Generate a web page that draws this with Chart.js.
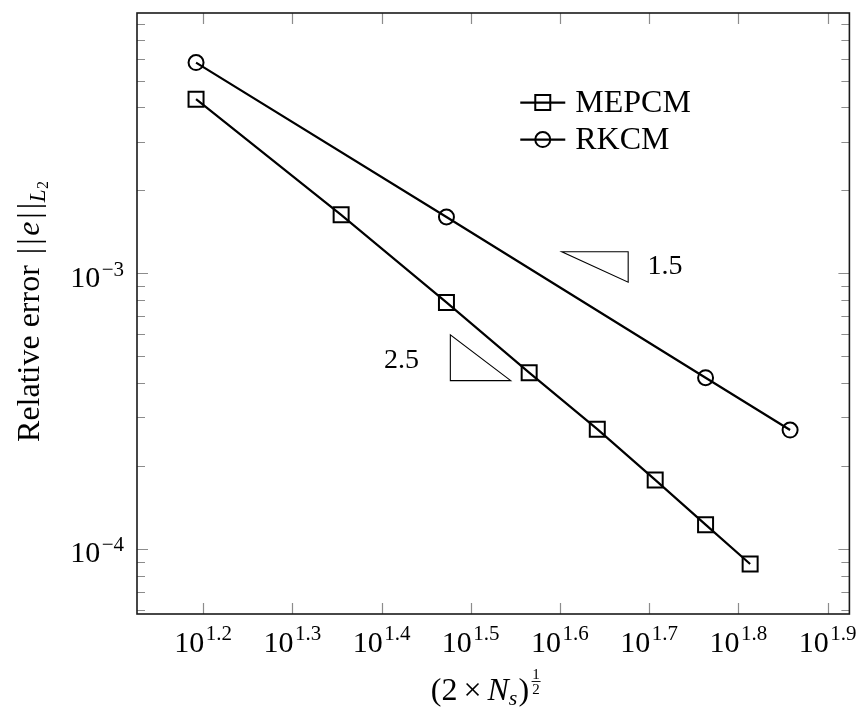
<!DOCTYPE html>
<html>
<head>
<meta charset="utf-8">
<script src="https://cdn.jsdelivr.net/npm/chart.js@4.4.0/dist/chart.umd.min.js"></script>
<style>
  html, body { margin: 0; padding: 0; background: #fff; }
  #wrap { width: 862px; height: 708px; }
</style>
</head>
<body>
<div id="wrap"><canvas id="myChart" width="862" height="708"></canvas></div>
<script>
// values
const mepcmX = [15.56, 22.63, 29.70, 36.77, 43.84, 50.91, 57.98, 65.05];
const mepcmErr = [4.28e-3, 1.63e-3, 7.84e-4, 4.36e-4, 2.72e-4, 1.78e-4, 1.225e-4, 8.82e-5];
const rkcmX = [15.56, 29.70, 57.98, 72.12];
const rkcmErr = [5.81e-3, 1.60e-3, 4.18e-4, 2.70e-4];

// tick labels (powers of ten)
const xTickExp = ['1.2', '1.3', '1.4', '1.5', '1.6', '1.7', '1.8', '1.9'];
const yTickExp = ['-4', '-3'];
const yMinorTicks = [6e-5, 7e-5, 8e-5, 9e-5, 2e-4, 3e-4, 4e-4, 5e-4, 6e-4, 7e-4, 8e-4, 9e-4,
                     2e-3, 3e-3, 4e-3, 5e-3, 6e-3, 7e-3, 8e-3];

// slope triangles, in data coordinates
const tri15 = [[40.0, 1.197e-3], [47.48, 1.197e-3], [47.48, 9.28e-4]];
const tri25 = [[30.0, 5.975e-4], [30.0, 4.08e-4], [35.06, 4.08e-4]];
const slopeText = ['1.5', '2.5'];
const slopeAt = [[49.9, 9.92e-4, 'left'], [27.66, 4.55e-4, 'right']];

const SERIF = '"Liberation Serif", "DejaVu Serif", serif';
const f = (size, style) => (style ? style + ' ' : '') + size + 'px ' + SERIF;

// draw a row of text pieces (for super/subscripts)
function richWidth(ctx, parts) {
  let w = 0;
  parts.forEach(p => {
    if (p.w !== undefined) { w += p.w; return; }
    ctx.font = p.font;
    w += ctx.measureText(p.t).width + (p.gap || 0);
  });
  return w;
}
function drawRich(ctx, parts, x, y, align) {
  const w = richWidth(ctx, parts);
  let cx = align === 'center' ? x - w / 2 : (align === 'right' ? x - w : x);
  ctx.textAlign = 'left';
  ctx.textBaseline = 'alphabetic';
  parts.forEach(p => {
    if (p.draw) { p.draw(ctx, cx, y); cx += p.w; return; }
    ctx.font = p.font;
    ctx.fillText(p.t, cx, y + (p.dy || 0));
    cx += ctx.measureText(p.t).width + (p.gap || 0);
  });
}

const axisPlugin = {
  id: 'axisPlugin',
  afterDraw(chart) {
    const ctx = chart.ctx;
    const a = chart.chartArea;
    const xs = chart.scales.x, ys = chart.scales.y;
    ctx.save();

    // tick marks, pointing inward on all sides
    ctx.strokeStyle = '#8c8c8c';
    ctx.lineWidth = 1.2;
    ctx.beginPath();
    xTickExp.forEach(e => {
      const px = Math.round(xs.getPixelForValue(Math.pow(10, parseFloat(e)))) + 0.5;
      ctx.moveTo(px, a.bottom); ctx.lineTo(px, a.bottom - 11);
      ctx.moveTo(px, a.top); ctx.lineTo(px, a.top + 11);
    });
    yTickExp.forEach(e => {
      const py = Math.round(ys.getPixelForValue(Math.pow(10, parseFloat(e)))) + 0.5;
      ctx.moveTo(a.left, py); ctx.lineTo(a.left + 11, py);
      ctx.moveTo(a.right, py); ctx.lineTo(a.right - 11, py);
    });
    yMinorTicks.forEach(v => {
      const py = Math.round(ys.getPixelForValue(v)) + 0.5;
      ctx.moveTo(a.left, py); ctx.lineTo(a.left + 8, py);
      ctx.moveTo(a.right, py); ctx.lineTo(a.right - 8, py);
    });
    ctx.stroke();

    // frame
    ctx.strokeStyle = '#1a1a1a';
    ctx.lineWidth = 1.6;
    ctx.strokeRect(a.left, a.top, a.right - a.left, a.bottom - a.top);

    ctx.fillStyle = '#000';
    // x tick labels
    xTickExp.forEach(e => {
      const px = xs.getPixelForValue(Math.pow(10, parseFloat(e)));
      drawRich(ctx, [
        { t: '10', font: f(30), gap: 1.5 },
        { t: e, font: f(21), dy: -11.5 }
      ], px, a.bottom + 37.5, 'center');
    });
    // y tick labels
    yTickExp.forEach(e => {
      const py = ys.getPixelForValue(Math.pow(10, parseFloat(e)));
      drawRich(ctx, [
        { t: '10', font: f(30), gap: 1.5 },
        { t: e.replace('-', '\u2212'), font: f(21), dy: -11 }
      ], a.left - 13, py + 13.4, 'right');
    });

    // x axis title: (2 x N_s)^(1/2)
    const frac = {
      w: 11,
      draw(c, x, y) {
        c.font = f(15);
        c.textAlign = 'center';
        c.fillText('1', x + 5.5, y - 21);
        c.fillText('2', x + 5.5, y - 6.5);
        c.fillRect(x + 1, y - 19, 9, 0.9);
        c.textAlign = 'left';
      }
    };
    drawRich(ctx, [
      { t: '(2', font: f(32), gap: 6 },
      { t: '\u00d7', font: f(32), gap: 6 },
      { t: 'N', font: f(32, 'italic') },
      { t: 's', font: f(22, 'italic'), dy: 5, gap: 1 },
      { t: ')', font: f(32), gap: 1.5 },
      frac
    ], (a.left + a.right) / 2 - 7, 700, 'center');

    // y axis title
    ctx.save();
    ctx.translate(39, (a.top + a.bottom) / 2 - 2);
    ctx.rotate(-Math.PI / 2);
    drawRich(ctx, [
      { t: 'Relative error', font: f(32), gap: 11 },
      { t: '|', font: f(32), gap: 3 },
      { t: '|', font: f(32), gap: 2.5 },
      { t: 'e', font: f(32, 'italic'), gap: 3 },
      { t: '|', font: f(32), gap: 3 },
      { t: '|', font: f(32), gap: 0.5 },
      { t: 'L', font: f(23, 'italic'), dy: 6, gap: 0.5 },
      { t: '2', font: f(16), dy: 9 }
    ], 0, 0, 'center');
    ctx.restore();

    // slope triangles
    ctx.strokeStyle = '#000';
    ctx.lineWidth = 1.1;
    [tri15, tri25].forEach(tri => {
      ctx.beginPath();
      tri.forEach((p, i) => {
        const px = xs.getPixelForValue(p[0]), py = ys.getPixelForValue(p[1]);
        if (i === 0) ctx.moveTo(px, py); else ctx.lineTo(px, py);
      });
      ctx.closePath();
      ctx.stroke();
    });
    ctx.font = f(28);
    ctx.textBaseline = 'alphabetic';
    slopeText.forEach((t, i) => {
      const s = slopeAt[i];
      ctx.textAlign = s[2];
      ctx.fillText(t, xs.getPixelForValue(s[0]), ys.getPixelForValue(s[1]));
    });

    // legend
    const lx = a.left + 0.538 * (a.right - a.left);
    let ly = a.top + 0.149 * (a.bottom - a.top);
    chart.data.datasets.forEach(ds => {
      ctx.strokeStyle = ds.borderColor;
      ctx.lineWidth = ds.borderWidth;
      ctx.beginPath();
      ctx.moveTo(lx, ly); ctx.lineTo(lx + 45, ly);
      ctx.stroke();
      ctx.lineWidth = ds.pointBorderWidth;
      const mx = lx + 22.5;
      ctx.beginPath();
      if (ds.pointStyle === 'rect') {
        const h = ds.pointRadius * Math.SQRT1_2;
        ctx.rect(mx - h, ly - h, 2 * h, 2 * h);
      } else {
        ctx.arc(mx, ly, ds.pointRadius, 0, Math.PI * 2);
      }
      ctx.stroke();
      ctx.font = f(32);
      ctx.textAlign = 'left';
      ctx.fillStyle = '#000';
      ctx.fillText(ds.label, lx + 55, ly + 9);
      ly += 37;
    });

    ctx.restore();
  }
};

const data = {
  datasets: [
    {
      label: 'MEPCM',
      data: mepcmX.map((x, i) => ({ x: x, y: mepcmErr[i] })),
      borderColor: '#000',
      borderWidth: 2.2,
      pointStyle: 'rect',
      pointRadius: 10.6,
      pointBorderWidth: 2,
      pointBorderColor: '#000',
      pointBackgroundColor: 'rgba(0,0,0,0)',
      tension: 0,
      fill: false
    },
    {
      label: 'RKCM',
      data: rkcmX.map((x, i) => ({ x: x, y: rkcmErr[i] })),
      borderColor: '#000',
      borderWidth: 2.2,
      pointStyle: 'circle',
      pointRadius: 7.5,
      pointBorderWidth: 2,
      pointBorderColor: '#000',
      pointBackgroundColor: 'rgba(0,0,0,0)',
      tension: 0,
      fill: false
    }
  ]
};

const config = {
  type: 'line',
  data: data,
  options: {
    responsive: false,
    animation: false,
    layout: { padding: { left: 137, top: 13, right: 8, bottom: 94 } },
    scales: {
      x: { type: 'logarithmic', display: false, min: 13.36, max: 84.05, bounds: 'data' },
      y: { type: 'logarithmic', display: false, min: 5.81e-5, max: 8.79e-3, bounds: 'data' }
    },
    plugins: {
      legend: { display: false },
      tooltip: { enabled: false }
    }
  },
  plugins: [axisPlugin]
};

const myChart = new Chart(document.getElementById('myChart'), config);
</script>
</body>
</html>
